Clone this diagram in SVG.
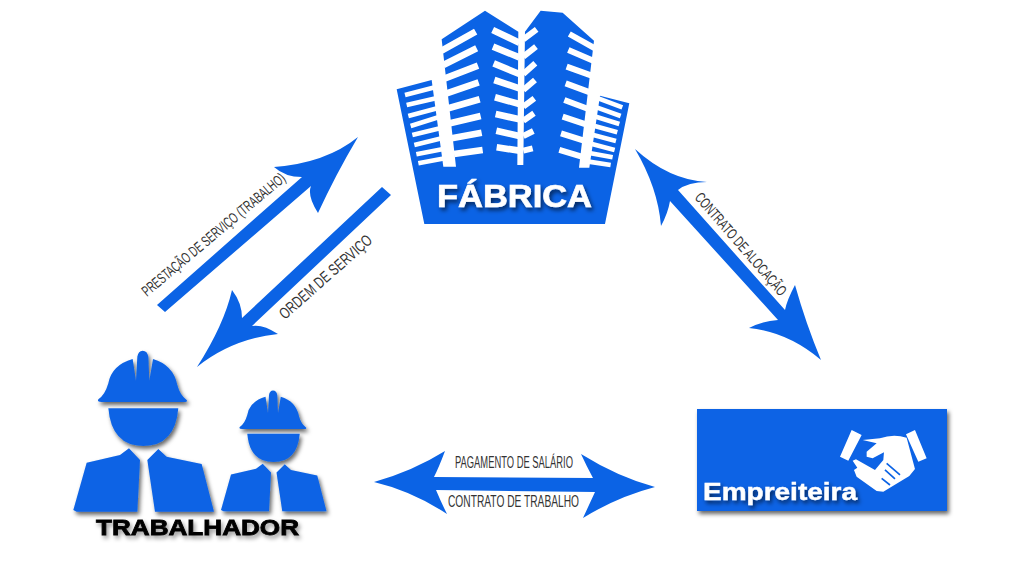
<svg xmlns="http://www.w3.org/2000/svg" width="1024" height="565" viewBox="0 0 1024 565">
<style>
.b{fill:#0b63e5}
.w{stroke:#fff;fill:none}
.t{font-family:"Liberation Sans",Arial,sans-serif;fill:#333;font-size:15px}
.h{font-family:"Liberation Sans",Arial,sans-serif;font-weight:bold}
</style>
<defs>
<filter id="s" x="-15%" y="-15%" width="130%" height="135%"><feDropShadow dx="2" dy="3" stdDeviation="2" flood-color="#000" flood-opacity=".6"/></filter>
<filter id="g" x="-10%" y="-30%" width="120%" height="170%"><feDropShadow dx="2" dy="3" stdDeviation="2" flood-color="#000" flood-opacity=".4"/></filter>
<g id="worker">
<path class="b" d="M115 178Q135 165 145 130Q155 75 218 57L228 122L232 50Q235 32 248 32Q262 32 265 50L268 122L279 57Q340 75 352 135Q360 165 380 180Q385 186 370 186L125 186Q110 186 115 178Z"/>
<path class="b" d="M145 205L355 205Q345 318 250 318Q155 318 145 205Z"/>
<path class="b" d="M40 510L80 368L180 345L207 325L240 360L232 515L50 515Z"/>
<path class="b" d="M262 360L295 327L320 350L425 372L462 515L285 515Z"/>
</g>
</defs>
<g id="connectors">
<path id="c1" class="b" d="M157 305L302 177Q285 177 274 167Q326 163 358 137Q336 174 318 213Q307 196 311 186L165 312Z"/>
<path id="c2" class="b" d="M382 187L391 195L252 326Q263 324 278 334Q232 339 197 367Q224 325 232 290Q242 303 242 318Z"/>
<path id="c3" class="b" d="M635 149Q669 180 707 182Q688 182 678 190L785 310Q787 300 795 285Q806 324 821 360Q788 332 749 328Q763 321 778 320L670 201Q668 213 661 226Q658 188 635 149Z"/>
<path id="c4" class="b" d="M374 482Q413 471 445 451Q439 467 434 477L593 478Q586 465 581 454Q618 477 655 487Q617 497 583 518Q589 505 595 492L436 490Q441 502 447 514Q412 491 374 482Z"/>
</g>
<g id="fabrica">
<g transform="translate(380 0) scale(.3333)">
<path class="b" d="M50 268L155 240L190 500L228 500L185 118L315 32L415 95L412 495L430 495L435 95L482 32L548 38L642 122L597 503L628 503L660 287L748 310L675 672L133 672Z"/>
<path class="w" stroke-width="20" d="M185 152L287 95M190 195L290 145M195 235L294 197M200 280L296 247M205 325L299 298M210 370L302 348M215 415L305 398M222 462L308 450M338 90L418 128M339 140L418 172M341 190L418 222M343 240L418 265M345 292L418 312M347 342L418 358M349 392L418 408M350 442L418 452"/>
<path class="w" stroke-width="18" d="M430 118L470 88M430 170L468 140M430 222L466 190M430 270L465 240M430 320L463 295M430 362L462 340M430 408L460 393M430 452L458 445M568 102L645 145M565 150L640 182M560 200L635 227M557 250L630 277M553 300L625 327M548 350L620 374M543 400L612 422M538 450L605 470"/>
<path class="w" stroke-width="14" d="M75 285L165 262M80 315L168 295M85 348L172 325M92 378L175 352M97 405L180 385M103 435L185 415M109 463L190 447M115 490L195 475M655 295L727 322M650 322L722 348M648 350L718 372M644 378L712 397M640 405L708 423M636 432L704 450M632 460L698 472M626 485L692 495"/>
</g>
<text class="h" x="437" y="207" font-size="31" fill="#fff" stroke="#fff" stroke-width=".6" textLength="155" lengthAdjust="spacingAndGlyphs" filter="url(#s)">FÁBRICA</text>
</g>
<g id="trabalhador">
<g filter="url(#s)">
<use href="#worker" transform="translate(60 340) scale(.3333)"/>
<use href="#worker" transform="translate(211 382.500) scale(.25)"/>
</g>
<text class="h" x="96" y="535" font-size="22" fill="#000" stroke="#000" stroke-width=".8" textLength="203" lengthAdjust="spacingAndGlyphs" filter="url(#g)">TRABALHADOR</text>
</g>
<g id="empreiteira">
<rect class="b" x="697" y="409" width="250" height="102" filter="url(#s)"/>
<g transform="translate(680 395) scale(.3333)">
<path fill="#fff" d="M515 105L545 120L505 197L480 185ZM705 105L740 190L715 200L678 118Z"/>
<path fill="#fff" d="M548 135L600 130Q640 115 680 128L705 222L688 243L610 290L590 288L530 245L522 225L532 218L518 197L528 193L585 225L610 195L612 172L578 190L560 185L560 170L590 145Z"/>
<path class="b" stroke="#0b63e5" stroke-width="5" d="M620 205L660 240M615 225L645 252M605 250L630 270"/>
</g>
<text class="h" x="703" y="500" font-size="24.500" fill="#fff" stroke="#fff" stroke-width=".4" textLength="154" lengthAdjust="spacingAndGlyphs" filter="url(#s)">Empreiteira</text>
</g>
<g id="labels">
<text class="t" x="147" y="297" transform="rotate(-40 147 297)" textLength="182" lengthAdjust="spacingAndGlyphs">PRESTAÇÃO DE SERVIÇO (TRABALHO)</text>
<text class="t" x="285" y="320" transform="rotate(-41.500 285 320)" textLength="118" lengthAdjust="spacingAndGlyphs" style="font-size:16px">ORDEM DE SERVIÇO</text>
<text class="t" x="694" y="198" transform="rotate(49 694 198)" textLength="131" lengthAdjust="spacingAndGlyphs">CONTRATO DE ALOCAÇÃO</text>
<text class="t" x="455" y="468" textLength="118" lengthAdjust="spacingAndGlyphs" style="font-size:16px">PAGAMENTO DE SALÁRIO</text>
<text class="t" x="448" y="507" textLength="131" lengthAdjust="spacingAndGlyphs" style="font-size:16px">CONTRATO DE TRABALHO</text>
</g>
</svg>
